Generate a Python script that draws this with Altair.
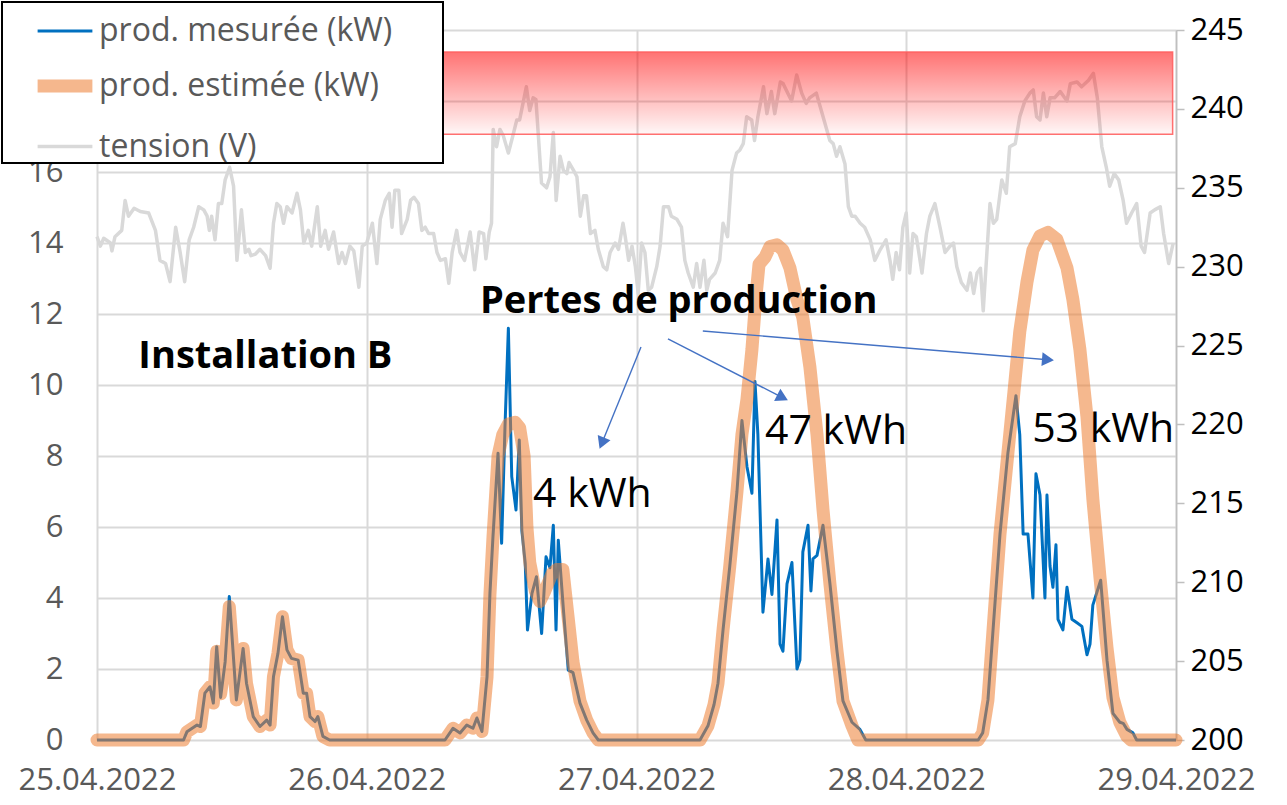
import math
import altair as alt
import pandas as pd

FONT = "Open Sans"
PLOT_W, PLOT_H = 1079, 710

# ---------------- data ----------------
series_names = ["prod. mesurée (kW)", "prod. estimée (kW)", "tension (V)"]
series_colors = ["#0070C0", "#ED7D31", "#D9D9D9"]
series_widths = [3, 13, 3.5]
series_opacity = [1.0, 0.55, 1.0]

x_tick_hours = [0, 24, 48, 72, 96]
x_tick_labels = ["25.04.2022", "26.04.2022", "27.04.2022", "28.04.2022", "29.04.2022"]
kw_ticks = [0, 2, 4, 6, 8, 10, 12, 14, 16, 18, 20]
v_ticks = [200, 205, 210, 215, 220, 225, 230, 235, 240, 245]

# measured production (hours since 25.04.2022 00:00, kW)
meas_h = [0, 7.7, 8.0, 8.9, 9.2, 9.6, 10.05, 10.35, 10.65, 11.0, 11.4, 11.77, 12.4, 13.0, 13.3,
          13.9, 14.5, 15.1, 15.4, 15.7, 16.1, 16.5, 16.9, 17.3, 17.9, 18.35, 18.65, 18.95, 19.4,
          19.65, 20.1, 20.7,
          30.96, 31.67, 32.3, 32.9, 33.45, 33.8, 34.25, 34.7, 34.96, 35.23, 35.68, 36.0, 36.3, 36.6,
          36.9, 37.28, 37.57, 37.8, 38.1, 38.3, 38.7, 39.1, 39.56, 39.95, 40.3, 40.6, 40.84, 41.04,
          41.5, 41.93, 42.35, 42.97, 43.57, 44.13, 44.6,
          53.65, 54.36, 54.9, 55.25, 55.7, 56.3, 56.94, 57.38, 57.83, 58.27, 58.54, 58.8, 59.25,
          59.7, 60.05, 60.5, 60.77, 61.03, 61.39, 61.83, 62.28, 62.54, 62.8, 63.26, 63.52, 63.7,
          64.06, 64.59, 65.21, 65.84, 66.37, 67.17, 67.88, 68.4,
          78.4, 78.8, 79.27, 79.7, 80.34, 81.05, 81.76, 82.1, 82.4, 82.83, 83.27, 83.54, 83.9,
          84.34, 84.52, 84.79, 85.05, 85.32, 85.5, 85.94, 86.3, 86.74, 87.19, 87.63, 88.08, 88.35,
          88.6, 89.3, 89.86, 90.39, 91.0, 91.3, 91.64, 92.17, 92.5, 96]
meas_kw = [0, 0, 0.23, 0.42, 0.38, 1.32, 1.5, 1.04, 2.63, 1.2, 2.2, 4.04, 1.13, 2.58, 1.6,
           0.66, 0.38, 0.56, 0.42, 1.78, 2.44, 3.47, 2.54, 2.3, 2.25, 1.32, 1.32, 0.66, 0.52,
           0.66, 0.1, 0,
           0, 0.33, 0.2, 0.42, 0.33, 0.62, 0.24, 1.78, 4.13, 5.73, 8.08, 5.54, 8.83, 11.6,
           7.42, 6.48, 8.45, 5.9, 4.98, 3.1, 4.13, 4.6, 3.0, 5.16, 4.85, 6.05, 3.1, 5.63,
           3.66, 1.97, 1.9, 1.04, 0.56, 0.2, 0,
           0, 0.4, 1.0, 1.6, 3.1, 4.9, 7.0, 9.0, 7.7, 6.95, 10.1, 8.6, 3.6,
           5.1, 4.1, 6.2, 2.7, 2.5, 4.4, 5.0, 2.0, 2.25, 5.3, 6.05, 4.2, 5.1,
           5.2, 6.05, 4.4, 2.5, 1.1, 0.5, 0.3, 0,
           0, 0.2, 1.13, 3.0, 5.8, 8.1, 9.7, 8.6, 5.8, 5.8, 4.0, 7.5, 6.9,
           4.0, 6.9, 4.9, 4.3, 5.5, 3.4, 3.1, 4.3, 3.4, 3.3, 3.2, 2.4, 2.7,
           3.8, 4.5, 2.25, 0.75, 0.5, 0.47, 0.3, 0.2, 0, 0]

# estimated production (kW)
est_h = [0, 7.7, 8.0, 8.9, 9.2, 9.6, 10.05, 10.35, 10.65, 11.0, 11.4, 11.77, 12.4, 13.0, 13.3,
         13.9, 14.5, 15.1, 15.4, 15.7, 16.1, 16.5, 16.9, 17.3, 17.9, 18.35, 18.65, 18.95, 19.4,
         19.65, 20.1, 20.7,
         30.96, 31.67, 32.3, 32.9, 33.45, 33.8, 34.25, 34.7, 34.96, 35.23, 35.68, 36.1, 36.6,
         37.2, 37.6, 38.0, 38.25, 38.5, 39.0, 39.4, 39.85, 40.5, 40.9, 41.45, 41.9, 42.35,
         42.97, 43.57, 44.13, 44.6,
         53.65, 54.36, 54.9, 55.25, 55.7, 56.3, 56.94, 57.38, 57.83, 58.27, 58.63, 58.9, 59.43,
         59.88, 60.5, 61.03, 61.65, 62.28, 62.8, 63.43, 64.06, 64.59, 65.21, 65.84, 66.37,
         67.17, 67.7,
         78.4, 78.8, 79.27, 79.7, 80.34, 81.05, 81.58, 82.1, 82.74, 83.27, 83.9, 84.6, 85.4,
         86.3, 86.83, 87.45, 88.08, 88.6, 89.23, 89.86, 90.39, 91.0, 91.64, 92.0, 96]
est_kw = [0, 0, 0.23, 0.42, 0.38, 1.32, 1.5, 1.04, 2.5, 1.3, 2.2, 3.76, 1.13, 2.58, 1.6,
          0.66, 0.38, 0.56, 0.42, 1.78, 2.44, 3.47, 2.54, 2.3, 2.25, 1.32, 1.32, 0.66, 0.52,
          0.66, 0.1, 0,
          0, 0.33, 0.2, 0.42, 0.33, 0.62, 0.24, 1.78, 4.1, 5.7, 8.0, 8.6, 8.9,
          8.95, 8.8, 8.0, 6.0, 5.0, 4.2, 3.9, 4.2, 4.7, 4.8, 4.8, 3.5, 2.2,
          1.1, 0.56, 0.2, 0,
          0, 0.4, 1.0, 1.6, 3.1, 4.9, 7.0, 8.6, 9.6, 11.0, 12.5, 13.4, 13.6,
          13.9, 13.95, 13.8, 13.3, 12.4, 11.9, 10.5, 8.6, 6.5, 4.4, 2.5, 1.1,
          0.4, 0,
          0, 0.2, 1.13, 3.0, 5.8, 8.1, 9.8, 11.5, 12.9, 13.8, 14.2, 14.3, 14.1,
          13.3, 12.4, 11.0, 9.1, 6.8, 4.6, 2.6, 1.2, 0.5, 0.1, 0, 0]

# voltage (V)
ten_h = [0.0, 0.3, 0.6, 1.2, 1.33, 1.6, 2.2, 2.5, 2.8, 3.3, 3.85, 4.6, 5.2, 5.6, 6.1, 6.5, 7.0,
         7.4, 7.8, 8.2, 8.6, 9.05, 9.5, 9.8, 10.0, 10.2, 10.5, 10.8, 11.1, 11.4, 11.8, 12.15,
         12.45, 12.85, 13.2, 13.5, 13.7, 14.1, 14.5, 15.0, 15.4, 15.7, 16.0, 16.3, 16.6, 16.9,
         17.35, 17.8, 18.1, 18.4, 18.8, 19.1, 19.6, 19.9, 20.3, 20.6, 21.05, 21.5, 21.8, 22.1,
         22.5, 22.85, 23.3, 23.6, 24.0, 24.5, 24.9, 25.2, 25.65, 26.0, 26.25, 26.5, 26.85, 27.1,
         27.6, 27.9, 28.2, 28.6, 28.9, 29.2, 29.5, 29.95, 30.25, 30.55, 31.0, 31.3, 31.6, 32.0,
         32.3, 32.7, 33.2, 33.6, 34.0, 34.4, 34.6, 34.9, 35.1, 35.25, 35.55, 35.85, 36.15, 36.6,
         37.0, 37.35, 37.6, 37.9, 38.2, 38.5, 38.8, 39.05, 39.25, 39.55, 40.0, 40.3, 40.6, 40.85,
         41.2, 41.5, 41.8, 42.0, 42.4, 42.7, 43.0, 43.3, 43.55, 43.9, 44.3, 44.6, 45.05, 45.35,
         45.65, 46.1, 46.4, 46.8, 47.0, 47.3, 47.6, 47.9, 48.15, 48.45, 48.75, 49.05, 49.35,
         49.8, 50.1, 50.4, 50.85, 51.1, 51.6, 52.0, 52.3, 52.6, 53.05, 53.35, 53.65, 54.0, 54.25,
         54.5, 55.0, 55.4, 55.7, 56.1, 56.5, 56.9, 57.2, 57.5, 57.8, 58.25, 58.5, 58.8, 59.3,
         59.6, 60.0, 60.3, 60.8, 61.05, 61.8, 62.25, 62.7, 63.1, 63.4, 64.0, 64.6, 65.2, 65.5,
         65.8, 66.1, 66.55, 66.85, 67.15, 67.45, 67.9, 68.3, 68.8, 69.2, 69.7, 70.2, 70.55,
         70.8, 71.1, 71.4, 71.7, 72.0, 72.3, 72.6, 72.9, 73.4, 73.8, 74.1, 74.55, 75.0, 75.45,
         75.9, 76.2, 76.5, 76.9, 77.4, 77.7, 78.0, 78.3, 78.6, 78.85, 79.45, 79.75, 80.05, 80.5,
         80.9, 81.2, 81.7, 82.1, 82.55, 83.0, 83.3, 83.6, 83.9, 84.2, 84.5, 84.8, 85.2, 85.7,
         86.3, 86.6, 87.2, 87.6, 88.2, 88.65, 89.0, 89.4, 89.8, 90.1, 90.5, 90.9, 91.3, 91.6,
         92.05, 92.5, 92.9, 93.2, 93.7, 94.1, 94.6, 94.9, 95.35, 95.75]
ten_v = [231.9, 231.3, 231.8, 231.5, 231.0, 231.9, 232.3, 234.2, 233.2, 233.7, 233.5, 233.4,
         232.3, 230.4, 230.2, 229.05, 232.5, 230.9, 229.05, 231.7, 232.5, 233.8, 233.6, 233.2,
         232.3, 233.2, 231.7, 234.0, 234.0, 235.5, 236.3, 235.1, 230.4, 233.6, 230.9, 231.1,
         230.7, 230.8, 231.1, 230.7, 229.9, 232.75, 234.0, 233.8, 232.75, 233.8, 233.4, 234.65,
         233.6, 231.5, 232.3, 231.3, 233.8, 231.3, 232.3, 231.1, 232.2, 230.2, 230.9, 230.2,
         231.3, 231.0, 228.7, 231.3, 231.5, 232.75, 230.2, 233.0, 234.2, 234.65, 232.5, 234.85,
         234.85, 232.1, 233.0, 234.2, 234.4, 234.0, 232.3, 232.5, 232.1, 232.1, 230.9, 230.4,
         230.5, 228.95, 230.9, 232.3, 230.9, 230.4, 232.2, 229.8, 232.2, 232.1, 230.5, 232.2,
         232.75, 238.7, 237.6, 238.7, 238.3, 237.2, 238.3, 239.3, 239.3, 240.35, 241.4, 239.9,
         240.7, 240.6, 238.5, 235.3, 235.0, 235.7, 238.5, 234.2, 237.0, 236.1, 235.9, 236.6,
         236.1, 235.7, 233.2, 234.5, 234.5, 232.1, 232.3, 231.1, 230.0, 229.8, 230.9, 231.5,
         231.1, 232.75, 231.9, 230.4, 231.3, 230.0, 228.3, 231.5, 230.9, 228.5, 228.7, 230.0,
         231.3, 233.8, 233.8, 233.2, 233.0, 232.5, 230.4, 229.6, 228.7, 230.2, 228.7, 230.4,
         228.5, 229.2, 229.6, 230.4, 232.75, 231.9, 236.1, 237.2, 237.4, 237.8, 239.5, 239.3,
         238.0, 239.5, 241.4, 239.7, 241.1, 239.7, 241.7, 241.6, 240.5, 242.15, 241.0, 240.35,
         240.7, 241.0, 239.5, 238.0, 237.8, 237.0, 237.6, 236.5, 233.8, 233.2, 233.2, 232.75,
         232.5, 231.7, 230.4, 231.1, 231.7, 230.4, 229.2, 230.9, 229.8, 232.5, 233.4, 229.6,
         232.1, 231.9, 229.6, 232.1, 233.2, 234.0, 232.5, 230.9, 231.3, 231.5, 230.0, 229.0,
         228.5, 229.6, 228.3, 229.6, 229.9, 227.2, 234.0, 232.75, 233.0, 235.5, 234.65, 237.6,
         237.8, 239.5, 240.5, 241.0, 241.2, 239.5, 239.3, 241.0, 239.5, 240.7, 240.7, 241.1,
         240.5, 241.6, 241.7, 241.4, 241.8, 242.25, 240.7, 237.6, 236.3, 235.1, 235.9, 235.5,
         234.2, 232.75, 233.4, 234.0, 231.3, 230.9, 233.4, 233.6, 233.8, 232.1, 230.2, 231.5]

# voltage band (V) and its time span (h)
band_v = [238.4, 243.6]
band_h = [0, 95.7]

# annotations
bold_labels = ["Installation B", "Pertes de production"]
bold_h = [3.68, 34.07]
bold_kw = [10.47, 12.02]
reg_labels = ["4 kWh", "47 kWh", "53 kWh"]
reg_h = [38.8, 59.43, 83.2]
reg_kw = [6.57, 8.34, 8.4]

arrow_h0 = [48.4, 50.8, 53.9]
arrow_kw0 = [11.07, 11.3, 11.52]
arrow_h1 = [44.75, 61.39, 85.05]
arrow_kw1 = [8.23, 9.58, 10.7]

# ---------------- frames ----------------
df_meas = pd.DataFrame({"h": meas_h, "kw": meas_kw, "series": series_names[0]})
df_est = pd.DataFrame({"h": est_h, "kw": est_kw, "series": series_names[1]})
df_ten = pd.DataFrame({"h": ten_h, "v": ten_v, "series": series_names[2]})
df_band = pd.DataFrame({"h0": [band_h[0]], "h1": [band_h[1]], "v0": [band_v[0]], "v1": [band_v[1]]})
df_bold = pd.DataFrame({"h": bold_h, "kw": bold_kw, "label": bold_labels})
df_reg = pd.DataFrame({"h": reg_h, "kw": reg_kw, "label": reg_labels})

px_h = PLOT_W / 96.0
px_kw = PLOT_H / 20.0
ang, hx, hy = [], [], []
for a0, b0, a1, b1 in zip(arrow_h0, arrow_kw0, arrow_h1, arrow_kw1):
    dx = (a1 - a0) * px_h
    dy = -(b1 - b0) * px_kw
    L = math.hypot(dx, dy)
    ang.append(math.degrees(math.atan2(dx, -dy)) % 360)
    back = 5.0
    hx.append(a1 - dx / L * back / px_h)
    hy.append(b1 + dy / L * back / px_kw)
df_arrow = pd.DataFrame({"h0": arrow_h0, "kw0": arrow_kw0, "h1": arrow_h1, "kw1": arrow_kw1,
                         "hx": hx, "hy": hy, "ang": ang})

# ---------------- encodings ----------------
label_js = "[" + ",".join("'" + s + "'" for s in x_tick_labels) + "][round(datum.value/24)]"


def x_enc(field="h"):
    return alt.X(f"{field}:Q",
                 scale=alt.Scale(domain=[0, 96], nice=False, zero=False),
                 axis=alt.Axis(values=x_tick_hours, labelExpr=label_js, title=None,
                               grid=True, gridColor="#D9D9D9", gridWidth=2,
                               ticks=False, domain=False, labelFont=FONT, labelFontSize=31,
                               labelColor="#595959", labelPadding=25, labelOverlap=False,
                               labelBound=False, labelFlush=False))


kw_scale = alt.Scale(domain=[0, 20], nice=False, zero=False)
kw_axis = alt.Axis(orient="left", values=kw_ticks, title=None, grid=True, gridColor="#D9D9D9",
                   gridWidth=2, ticks=False, domain=False, labelFont=FONT, labelFontSize=31,
                   labelColor="#595959", labelPadding=34)
v_scale = alt.Scale(domain=[200, 245], nice=False, zero=False)
v_axis = alt.Axis(orient="right", values=v_ticks, title=None, grid=False, ticks=True,
                  tickSize=8, tickWidth=1.5, tickColor="#BFBFBF", domain=True,
                  domainColor="#BFBFBF", domainWidth=1.5, labelFont=FONT, labelFontSize=31,
                  labelColor="#000000", labelPadding=6)

# trailing non-breaking spaces (kept by a zero-width char) widen the legend frame
leg = alt.Legend(title=None,
                 labelExpr="datum.label + '\u00a0\u00a0\u00a0\u00a0\u00a0\u00a0\u200b'")
color_enc = alt.Color("series:N", scale=alt.Scale(domain=series_names, range=series_colors), legend=leg)
sw_enc = alt.StrokeWidth("series:N", scale=alt.Scale(type="ordinal", domain=series_names, range=series_widths), legend=leg)
op_enc = alt.Opacity("series:N", scale=alt.Scale(type="ordinal", domain=series_names, range=series_opacity), legend=leg)

tension = alt.Chart(df_ten).mark_line(strokeJoin="round").encode(
    x=x_enc(), y=alt.Y("v:Q", scale=v_scale, axis=v_axis),
    color=color_enc, strokeWidth=sw_enc, opacity=op_enc)

band = alt.Chart(df_band).mark_rect(
    color=alt.Gradient(gradient="linear", x1=0, y1=0, x2=0, y2=1,
                       stops=[alt.GradientStop(color="rgba(255,0,0,0.55)", offset=0),
                              alt.GradientStop(color="rgba(255,0,0,0.03)", offset=1)]),
    stroke="#FF6060", strokeWidth=1.5, strokeOpacity=0.9).encode(
    x=x_enc("h0"), x2="h1", y=alt.Y("v0:Q", scale=v_scale, axis=v_axis), y2="v1")

meas = alt.Chart(df_meas).mark_line(strokeJoin="round").encode(
    x=x_enc(), y=alt.Y("kw:Q", scale=kw_scale, axis=kw_axis),
    color=color_enc, strokeWidth=sw_enc, opacity=op_enc)

est = alt.Chart(df_est).mark_line(strokeJoin="round", strokeCap="round").encode(
    x=x_enc(), y=alt.Y("kw:Q", scale=kw_scale, axis=kw_axis),
    color=color_enc, strokeWidth=sw_enc, opacity=op_enc)

txt_bold = alt.Chart(df_bold).mark_text(align="left", baseline="alphabetic", font=FONT,
                                        fontSize=38, fontWeight="bold", color="#000000").encode(
    x=x_enc(), y=alt.Y("kw:Q", scale=kw_scale, axis=kw_axis), text="label:N")

txt_reg = alt.Chart(df_reg).mark_text(align="left", baseline="alphabetic", font=FONT,
                                      fontSize=41, color="#000000").encode(
    x=x_enc(), y=alt.Y("kw:Q", scale=kw_scale, axis=kw_axis), text="label:N")

arrow_lines = alt.Chart(df_arrow).mark_rule(color="#4472C4", strokeWidth=1.4).encode(
    x=x_enc("h0"), x2="hx", y=alt.Y("kw0:Q", scale=kw_scale, axis=kw_axis), y2="hy")

arrow_heads = alt.Chart(df_arrow).mark_point(shape="triangle-up", filled=True, size=190,
                                             color="#4472C4", opacity=1).encode(
    x=x_enc("hx"), y=alt.Y("hy:Q", scale=kw_scale, axis=kw_axis),
    angle=alt.Angle("ang:Q", scale=None))

v_group = alt.layer(tension, band)
kw_group = alt.layer(meas, est, txt_bold, txt_reg, arrow_lines, arrow_heads)

chart = alt.layer(v_group, kw_group).resolve_scale(y="independent").properties(
    width=PLOT_W, height=PLOT_H,
    padding={"left": 97, "top": 30, "right": 111, "bottom": 65},
    autosize=alt.AutoSizeParams(type="none"),
    background="white",
).configure_view(stroke=None).configure_legend(
    orient="none", legendX=-95, legendY=-28, padding=0,
    fillColor="white", strokeColor="#000000", strokeWidth=2,
    symbolType="stroke", symbolSize=3000, symbolOffset=29,
    labelFont=FONT, labelFontSize=32, labelColor="#595959", labelOffset=0,
    labelLimit=600, rowPadding=5, zindex=1,
)

chart.save("out.html", embed_options={"renderer": "svg", "actions": False})
